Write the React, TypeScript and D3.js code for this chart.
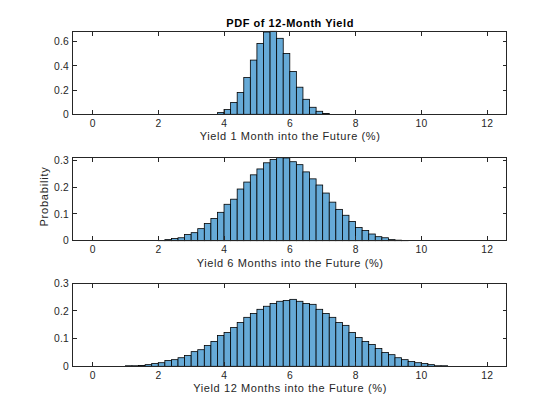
import React from 'react';
import * as d3 from 'd3';

// histogram pdf values, bin width 0.2
const binWidth = 0.2;
const binStarts = [3.8, 2.0, 1.0];

const pdf1Month = [
  0.014, 0.039, 0.097, 0.18, 0.304, 0.448, 0.586, 0.68, 0.686, 0.628, 0.503, 0.354,
  0.224, 0.124, 0.058, 0.025, 0.006,
];

const pdf6Months = [
  0.001, 0.004, 0.008, 0.011, 0.023, 0.03, 0.045, 0.064, 0.083, 0.106, 0.136, 0.155,
  0.193, 0.219, 0.246, 0.268, 0.291, 0.303, 0.31, 0.309, 0.295, 0.284, 0.257, 0.231,
  0.208, 0.178, 0.144, 0.117, 0.095, 0.072, 0.049, 0.038, 0.025, 0.015, 0.011, 0.004,
  0.002, 0.001,
];

const pdf12Months = [
  0.002, 0.002, 0.003, 0.006, 0.01, 0.013, 0.021, 0.024, 0.031, 0.039, 0.053, 0.06,
  0.075, 0.09, 0.111, 0.122, 0.14, 0.158, 0.177, 0.191, 0.206, 0.217, 0.227, 0.235,
  0.238, 0.242, 0.235, 0.227, 0.224, 0.206, 0.191, 0.177, 0.158, 0.148, 0.122, 0.104,
  0.09, 0.079, 0.064, 0.05, 0.042, 0.031, 0.024, 0.017, 0.013, 0.01, 0.006, 0.002,
  0.002,
];

const xTicks = [0, 2, 4, 6, 8, 10, 12];
const yTicks1 = [0, 0.2, 0.4, 0.6];
const yTicks6 = [0, 0.1, 0.2, 0.3];
const yTicks12 = [0, 0.1, 0.2, 0.3];
const yLimits = [0.686, 0.31, 0.3];

const xLabels = [
  'Yield 1 Month into the Future (%)',
  'Yield 6 Months into the Future (%)',
  'Yield 12 Months into the Future (%)',
];
const title = 'PDF of 12-Month Yield';
const yLabel = 'Probability';

const W = 560;
const H = 420;
const left = 72.8;
const right = 506.8;
const tops = [31.3, 157.7, 283.3];
const panelH = 83;
const tickLen = 4.3;
const axisColor = '#262626';
const font = '"Liberation Sans", Arial, Helvetica, sans-serif';

const x = d3.scaleLinear().domain([-0.6, 12.6]).range([left, right]);

function Panel({ top, values, start, yTicks, yMax, label }) {
  const bottom = top + panelH;
  const y = d3.scaleLinear().domain([0, yMax]).range([bottom, top]);
  const fmt = (v: number) => (v === 0 ? '0' : d3.format('.1f')(v));
  return (
    <g>
      {values.map((v: number, i: number) => {
        const x0 = x(start + i * binWidth);
        const x1 = x(start + (i + 1) * binWidth);
        return (
          <rect
            key={i}
            x={x0}
            y={y(v)}
            width={x1 - x0}
            height={y(0) - y(v)}
            fill="#66aad7"
            stroke="#000"
            strokeWidth={0.8}
          />
        );
      })}
      <g stroke={axisColor} strokeWidth={1} shapeRendering="crispEdges" fill="none">
        <rect x={left} y={top} width={right - left} height={panelH} />
        {xTicks.map((t) => (
          <g key={t}>
            <line x1={x(t)} x2={x(t)} y1={bottom} y2={bottom - tickLen} />
            <line x1={x(t)} x2={x(t)} y1={top} y2={top + tickLen} />
          </g>
        ))}
        {yTicks.map((t: number) => (
          <g key={t}>
            <line x1={left} x2={left + tickLen} y1={y(t)} y2={y(t)} />
            <line x1={right} x2={right - tickLen} y1={y(t)} y2={y(t)} />
          </g>
        ))}
      </g>
      <g fill={axisColor} fontFamily={font} fontSize={10.3} letterSpacing={0.25}>
        {xTicks.map((t) => (
          <text key={t} x={x(t) + 0.15} y={bottom + 12.3} textAnchor="middle">
            {t}
          </text>
        ))}
        {yTicks.map((t: number) => (
          <text key={t} x={left - 3.7} y={y(t) + 3.7} textAnchor="end">
            {fmt(t)}
          </text>
        ))}
      </g>
      <text
        x={(left + right) / 2 + 0.3}
        y={bottom + 26}
        textAnchor="middle"
        fontFamily={font}
        fontSize={11}
        letterSpacing={0.6}
        fill={axisColor}
      >
        {label}
      </text>
    </g>
  );
}

export default function App() {
  const series = [pdf1Month, pdf6Months, pdf12Months];
  const ticks = [yTicks1, yTicks6, yTicks12];
  return (
    <svg
      width={W}
      height={H}
      style={{ position: 'fixed', left: 0, top: 0, background: '#fff' }}
    >
      <rect width={W} height={H} fill="#fff" />
      {series.map((s, i) => (
        <Panel
          key={i}
          top={tops[i]}
          values={s}
          start={binStarts[i]}
          yTicks={ticks[i]}
          yMax={yLimits[i]}
          label={xLabels[i]}
        />
      ))}
      <text
        x={(left + right) / 2 + 0.3}
        y={26.5}
        textAnchor="middle"
        fontFamily={font}
        fontSize={11}
        fontWeight="bold"
        letterSpacing={0.55}
        fill="#000"
      >
        {title}
      </text>
      <text
        transform="translate(47.8,196.5) rotate(-90)"
        textAnchor="middle"
        fontFamily={font}
        fontSize={11}
        letterSpacing={0.8}
        fill={axisColor}
      >
        {yLabel}
      </text>
    </svg>
  );
}
